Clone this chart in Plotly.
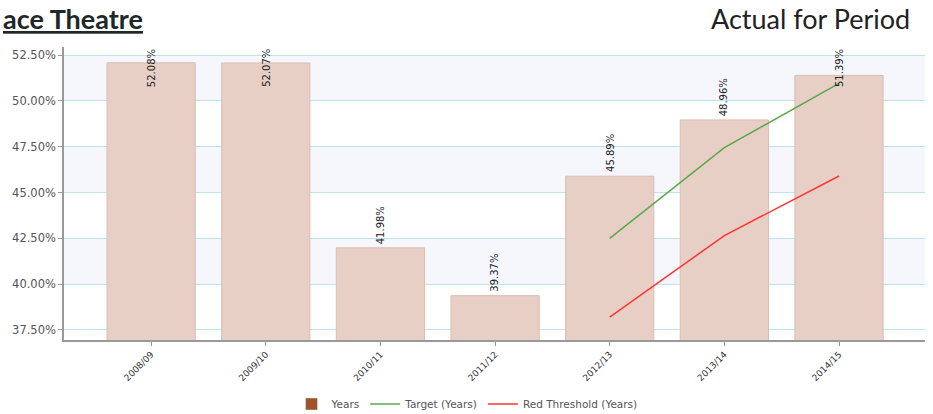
import plotly.graph_objects as go

# Occupancy by financial year
years = ["2008/09", "2009/10", "2010/11", "2011/12", "2012/13", "2013/14", "2014/15"]
actual = [52.08, 52.07, 41.98, 39.37, 45.89, 48.96, 51.39]
target = [None, None, None, None, 42.5, 47.45, 50.95]
red_threshold = [None, None, None, None, 38.2, 42.65, 45.9]
y_ticks = [37.5, 40.0, 42.5, 45.0, 47.5, 50.0, 52.5]

W, H = 933, 414
ML, MR, MT, MB = 64, 8, 47, 74
PW, PH = W - ML - MR, H - MT - MB

Y_MIN, Y_MAX = 36.95, 52.94
LABEL_SPAN = 2.25  # approx. height of a rotated value label, in axis units

fig = go.Figure()

fig.add_trace(go.Bar(
    x=years, y=actual, name="Years", showlegend=False,
    width=0.77,
    marker=dict(color="#e7cfc6", line=dict(color="#dcbdb0", width=1)),
    hoverinfo="x+y",
))
# legend swatch for the bar series
fig.add_trace(go.Bar(
    x=[None], y=[None], name="Years",
    marker=dict(color="#a0522d"),
))
fig.add_trace(go.Scatter(
    x=years, y=target, name="Target (Years)", mode="lines",
    line=dict(color="#5aa84a", width=1.5),
))
fig.add_trace(go.Scatter(
    x=years, y=red_threshold, name="Red Threshold (Years)", mode="lines",
    line=dict(color="#ff3333", width=1.5),
))

# alternating horizontal bands
shapes = []
for lo, hi in [(40.0, 42.5), (45.0, 47.5), (50.0, 52.5)]:
    shapes.append(dict(type="rect", xref="paper", yref="y", x0=0, x1=1, y0=lo, y1=hi,
                       fillcolor="#f5f7fd", line=dict(width=0), layer="below"))

label_font = dict(family="DejaVu Sans", size=10, color="#222")
annotations = []
for yr, v in zip(years, actual):
    txt = f"{v:.2f}%"
    if v + LABEL_SPAN > Y_MAX:
        annotations.append(dict(x=yr, y=1, xref="x", yref="paper", yanchor="top",
                                text=txt, textangle=-90, showarrow=False, font=label_font))
    else:
        annotations.append(dict(x=yr, y=v, xref="x", yref="y", yanchor="bottom", yshift=2,
                                text=txt, textangle=-90, showarrow=False, font=label_font))

# page titles sit in the top margin
annotations.append(dict(x=-ML / PW, y=1 + MT / PH, xref="paper", yref="paper",
                        xanchor="left", yanchor="top", xshift=1, yshift=0,
                        text="<b><u>ace Theatre</u></b>", showarrow=False,
                        font=dict(family="Lato", size=27, color="#1f2828")))
annotations.append(dict(x=1 + (MR - 21) / PW, y=1 + MT / PH, xref="paper", yref="paper",
                        xanchor="right", yanchor="top", yshift=0,
                        text="Actual for Period", showarrow=False,
                        font=dict(family="Lato", size=27, color="#222")))

fig.update_layout(
    width=W, height=H,
    margin=dict(l=ML, r=MR, t=MT, b=MB, autoexpand=False),
    paper_bgcolor="white", plot_bgcolor="white",
    barmode="overlay",
    shapes=shapes,
    annotations=annotations,
    showlegend=True,
    legend=dict(orientation="h", x=(467 - ML) / PW, xanchor="center",
                y=-(404 - (H - MB)) / PH, yanchor="middle",
                font=dict(family="DejaVu Sans", size=10.5, color="#555"),
                itemwidth=30, tracegroupgap=0, bgcolor="rgba(0,0,0,0)"),
    xaxis=dict(type="category", range=[-0.76, 6.75], tickangle=-45, automargin=False,
               tickfont=dict(family="DejaVu Sans", size=9, color="#333"),
               ticks="outside", ticklen=4, tickcolor="#999",
               showline=True, linecolor="#999", linewidth=1.5,
               showgrid=False, fixedrange=True),
    yaxis=dict(range=[Y_MIN, Y_MAX], tickvals=y_ticks, automargin=False,
               ticktext=[f"{t:.2f}%" for t in y_ticks],
               tickfont=dict(family="DejaVu Sans", size=11.5, color="#555"),
               ticks="outside", ticklen=4, tickcolor="#999",
               showline=True, linecolor="#999", linewidth=1.5,
               showgrid=True, gridcolor="#bfe3ec", gridwidth=1,
               zeroline=False, fixedrange=True),
)

fig.write_html("out.html")
